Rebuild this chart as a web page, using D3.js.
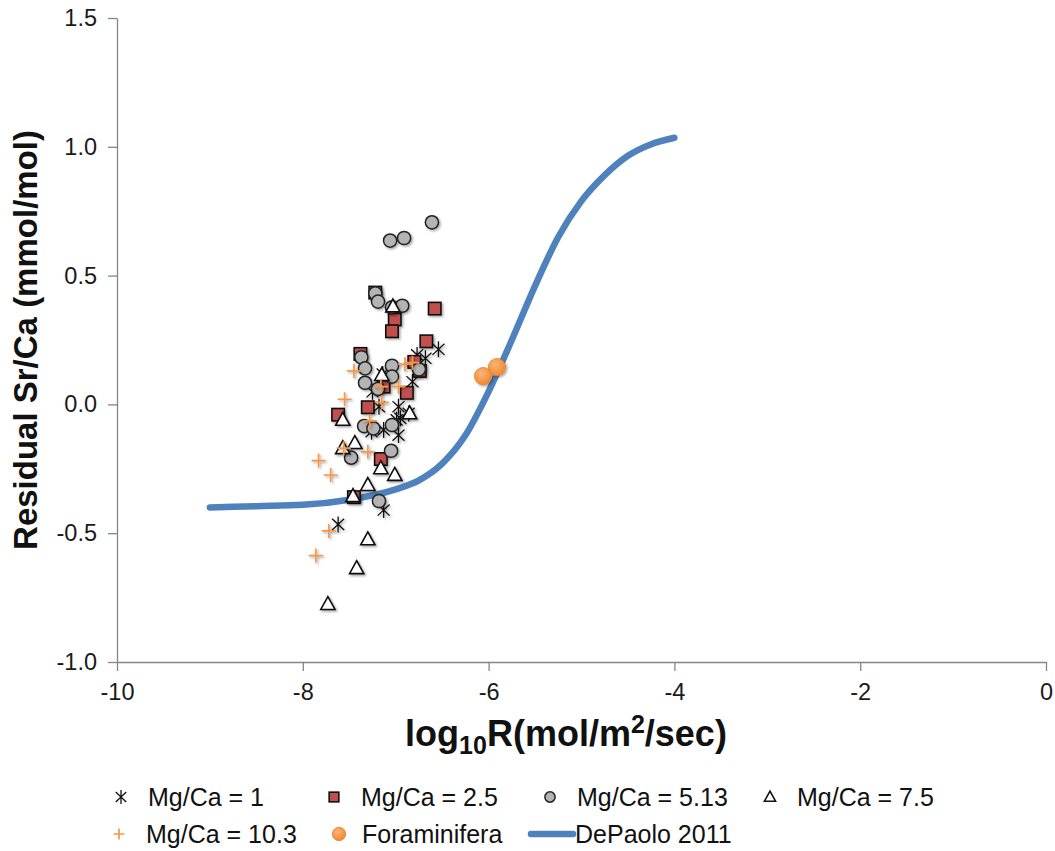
<!DOCTYPE html>
<html>
<head>
<meta charset="utf-8">
<script src="https://cdn.jsdelivr.net/npm/d3@7"></script>
<style>
  body { margin: 0; background: #fff; }
  text { font-family: "Liberation Sans", Arial, sans-serif; }
</style>
</head>
<body>
<div id="chart"></div>
<script>
// series: [log10R, residual Sr/Ca]
var mg1 = [[-6.54,0.214],[-6.68,0.179],[-6.77,0.192],[-6.82,0.088],[-7.14,0.118],[-7.25,0.049],
  [-7.18,-0.009],[-6.97,-0.009],[-6.95,-0.054],[-6.86,-0.035],[-6.99,-0.06],[-7.13,-0.099],
  [-7.26,-0.106],[-6.97,-0.119],[-7.13,-0.41],[-7.62,-0.466]];
var mg25 = [[-7.22,0.434],[-6.58,0.372],[-7.01,0.33],[-7.04,0.284],[-6.67,0.245],[-7.38,0.196],
  [-6.80,0.165],[-6.74,0.13],[-6.88,0.045],[-7.13,0.069],[-7.30,-0.011],[-7.62,-0.04],
  [-7.16,-0.212],[-7.45,-0.36]];
var mg513 = [[-6.61,0.707],[-7.06,0.636],[-6.91,0.646],[-7.22,0.431],[-7.19,0.399],[-7.04,0.377],
  [-6.93,0.383],[-7.37,0.183],[-7.33,0.14],[-7.04,0.15],[-7.04,0.108],[-7.33,0.084],[-6.75,0.136],
  [-7.19,0.06],[-7.34,-0.084],[-7.24,-0.093],[-7.04,-0.08],[-7.05,-0.18],[-7.48,-0.207],[-7.18,-0.375]];
var mg75 = [[-7.57,-0.06],[-7.57,-0.17],[-7.44,-0.15],[-7.16,-0.248],[-7.01,-0.274],[-7.30,-0.313],
  [-7.46,-0.356],[-7.15,0.114],[-7.03,0.38],[-6.85,-0.035],[-7.30,-0.524],[-7.42,-0.636],[-7.73,-0.775]];
var mg103 = [[-7.45,0.13],[-7.55,0.02],[-7.16,0.069],[-6.97,0.069],[-7.15,0.008],[-6.90,0.156],
  [-6.82,0.162],[-7.28,-0.064],[-7.30,-0.184],[-7.56,-0.17],[-7.83,-0.218],[-7.70,-0.274],
  [-7.72,-0.491],[-7.86,-0.587]];
var foram = [[-6.06,0.11],[-5.91,0.145]];
var depaoloX = [-9,-8.5,-8,-7.5,-7,-6.75,-6.5,-6.25,-6,-5.75,-5.5,-5.25,-5,-4.75,-4.5,-4.25,-4];
var depaoloY = [-0.40,-0.395,-0.39,-0.37,-0.33,-0.295,-0.23,-0.12,0.05,0.25,0.46,0.65,0.79,0.89,0.965,1.01,1.035];

var xTicks = [-10,-8,-6,-4,-2,0];
var yTicks = [-1.0,-0.5,0.0,0.5,1.0,1.5];
var legendNames = ["Mg/Ca = 1","Mg/Ca = 2.5","Mg/Ca = 5.13","Mg/Ca = 7.5","Mg/Ca = 10.3","Foraminifera","DePaolo 2011"];

var W = 1055, H = 851;
var x = d3.scaleLinear().domain([-10, 0]).range([117, 1046]);
var y = d3.scaleLinear().domain([-1, 1.5]).range([662, 18]);
var axisColor = "#868686";

var svg = d3.select("#chart").append("svg").attr("width", W).attr("height", H);

var defs = svg.append("defs");
var f = defs.append("filter").attr("id", "shadow").attr("x", "-50%").attr("y", "-50%")
  .attr("width", "200%").attr("height", "200%");
f.append("feDropShadow").attr("dx", 1.5).attr("dy", 1.5).attr("stdDeviation", 1)
  .attr("flood-color", "#000").attr("flood-opacity", 0.35);
var grad = defs.append("radialGradient").attr("id", "orangeGrad").attr("cx", "40%").attr("cy", "35%").attr("r", "65%");
grad.append("stop").attr("offset", "0%").attr("stop-color", "#fbb57a");
grad.append("stop").attr("offset", "100%").attr("stop-color", "#f0892f");

// axes
var yAxis = d3.axisLeft(y).tickValues(yTicks).tickSize(9).tickSizeOuter(0).tickPadding(11)
  .tickFormat(function (d) { return d.toFixed(1); });
var xAxis = d3.axisBottom(x).tickValues(xTicks).tickSize(9).tickSizeOuter(0).tickPadding(12)
  .tickFormat(function (d) { return String(d); });

var gy = svg.append("g").attr("transform", "translate(117,0)").call(yAxis);
var gx = svg.append("g").attr("transform", "translate(0,662)").call(xAxis);
[gx, gy].forEach(function (g) {
  g.select(".domain").attr("stroke", axisColor).attr("stroke-width", 1.3);
  g.selectAll(".tick line").attr("stroke", axisColor).attr("stroke-width", 1.3);
  g.selectAll(".tick text").attr("fill", "#1a1a1a").style("font-size", "23.5px")
    .style("font-family", "'Liberation Sans', Arial, sans-serif");
});

// axis titles
svg.append("text")
  .attr("transform", "translate(37,340) rotate(-90)")
  .attr("text-anchor", "middle")
  .style("font-size", "33px").style("font-weight", "bold").attr("fill", "#111")
  .text("Residual Sr/Ca (mmol/mol)");

var xt = svg.append("text").attr("x", 566).attr("y", 746).attr("text-anchor", "middle")
  .style("font-size", "36px").style("font-weight", "bold").attr("fill", "#111");
xt.append("tspan").text("log");
xt.append("tspan").text("10").attr("dy", 8).style("font-size", "25px");
xt.append("tspan").text("R(mol/m").attr("dy", -8);
xt.append("tspan").text("2").attr("dy", -13).style("font-size", "25px");
xt.append("tspan").text("/sec)").attr("dy", 13);

// marker drawing
function markerPath(type, s) {
  if (type === "asterisk") {
    return "M0," + (-s) + "V" + s +
      "M" + (-s * 0.75) + "," + (-s * 0.7) + "L" + (s * 0.75) + "," + (s * 0.7) +
      "M" + (-s * 0.75) + "," + (s * 0.7) + "L" + (s * 0.75) + "," + (-s * 0.7);
  }
  if (type === "plus") {
    return "M" + (-s) + ",0H" + s + "M0," + (-s) + "V" + s;
  }
  if (type === "triangle") {
    return "M0," + (-s) + "L" + (s * 0.95) + "," + (s * 0.72) + "L" + (-s * 0.95) + "," + (s * 0.72) + "Z";
  }
}

function drawMarker(g, type, small) {
  var k = small ? 0.78 : 1;
  if (type === "square") {
    var h = 6.2 * k;
    g.append("rect").attr("x", -h).attr("y", -h).attr("width", 2 * h).attr("height", 2 * h)
      .attr("fill", "#c0504d").attr("stroke", "#111").attr("stroke-width", 1.6);
  } else if (type === "circle") {
    g.append("circle").attr("r", 6.6 * k).attr("fill", "#b4b4b4").attr("stroke", "#222").attr("stroke-width", 1.5);
  } else if (type === "foram") {
    g.append("circle").attr("r", 8.6 * k).attr("fill", "url(#orangeGrad)").attr("stroke", "#e9822c").attr("stroke-width", 0.8);
  } else if (type === "asterisk") {
    g.append("path").attr("d", markerPath(type, small ? 7 : 8)).attr("fill", "none").attr("stroke", "#111").attr("stroke-width", 1.3);
  } else if (type === "plus") {
    g.append("path").attr("d", markerPath(type, 7 * k)).attr("fill", "none").attr("stroke", "#f79646").attr("stroke-width", 1.7);
  } else if (type === "triangle") {
    g.append("path").attr("d", markerPath(type, 7.5 * k)).attr("fill", "#fff").attr("stroke", "#111").attr("stroke-width", 1.6);
  }
}

// DePaolo curve (behind markers)
var curveData = depaoloX.map(function (d, i) { return [d, depaoloY[i]]; });
svg.append("path")
  .datum(curveData)
  .attr("fill", "none")
  .attr("stroke", "#4f81bd")
  .attr("stroke-width", 6.5)
  .attr("stroke-linecap", "round")
  .attr("d", d3.line().x(function (d) { return x(d[0]); }).y(function (d) { return y(d[1]); }).curve(d3.curveMonotoneX));

var series = [
  {data: mg1, type: "asterisk"},
  {data: mg25, type: "square"},
  {data: mg513, type: "circle"},
  {data: mg75, type: "triangle"},
  {data: mg103, type: "plus"},
  {data: foram, type: "foram"}
];

series.forEach(function (s) {
  var layer = svg.append("g").attr("filter", "url(#shadow)");
  layer.selectAll("g.pt").data(s.data).enter().append("g")
    .attr("class", "pt")
    .attr("transform", function (d) { return "translate(" + x(d[0]) + "," + y(d[1]) + ")"; })
    .each(function () { drawMarker(d3.select(this), s.type, false); });
});

// legend
var legendTypes = ["asterisk", "square", "circle", "triangle", "plus", "foram", "line"];
var legendPos = [[121,797],[334,797],[550,797],[770,797],[119,834],[339,834],[552,834]];
legendNames.forEach(function (name, i) {
  var p = legendPos[i];
  var g = svg.append("g").attr("transform", "translate(" + p[0] + "," + p[1] + ")");
  var tx = legendTypes[i] === "foram" ? 23 : 27;
  if (legendTypes[i] === "line") {
    g.append("line").attr("x1", -21).attr("x2", 21).attr("y1", 0).attr("y2", 0)
      .attr("stroke", "#4f81bd").attr("stroke-width", 6.5).attr("stroke-linecap", "round");
    tx = 23;
  } else {
    drawMarker(g, legendTypes[i], true);
  }
  g.append("text").attr("x", tx).attr("y", 0).attr("dy", "0.36em")
    .style("font-size", "25px").attr("fill", "#111").text(name);
});
</script>
</body>
</html>
